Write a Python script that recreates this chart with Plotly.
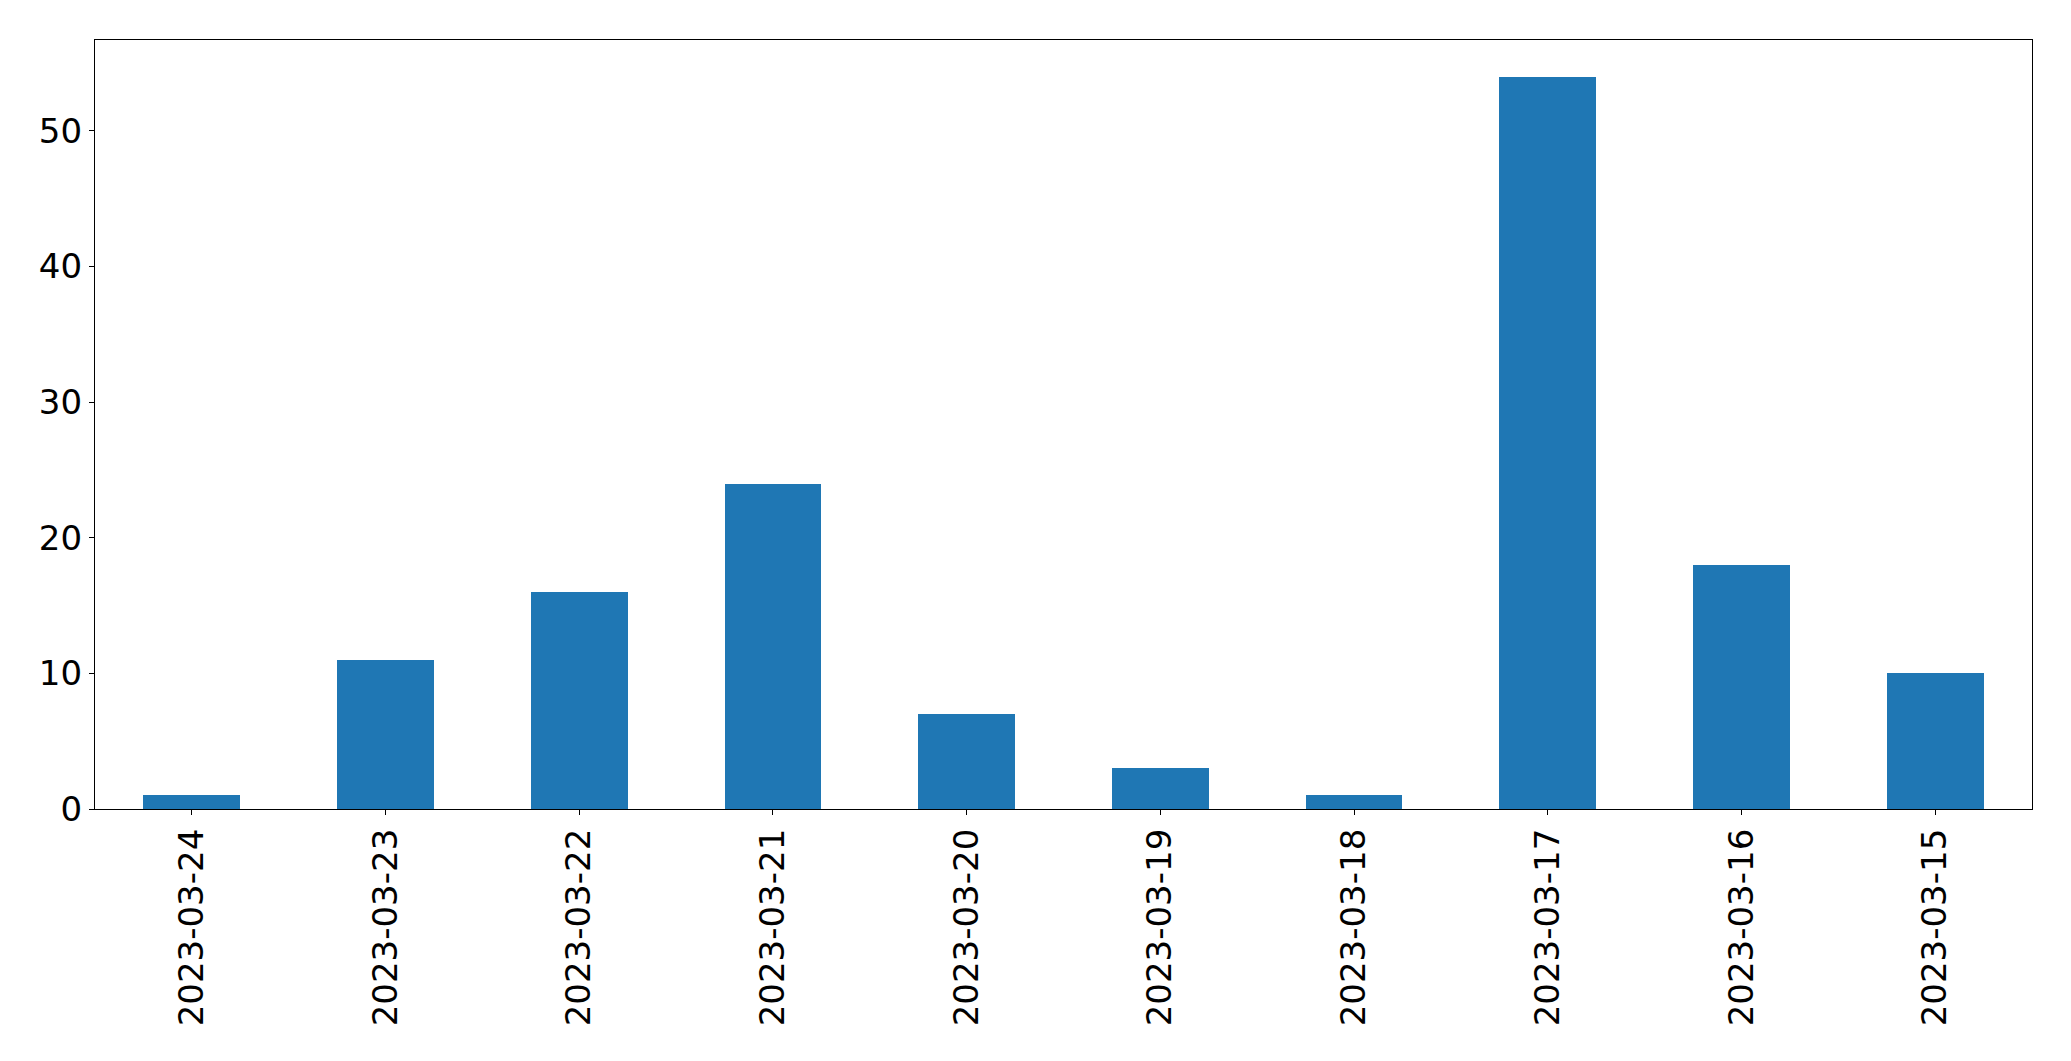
import plotly.graph_objects as go

dates = ["2023-03-24", "2023-03-23", "2023-03-22", "2023-03-21", "2023-03-20",
         "2023-03-19", "2023-03-18", "2023-03-17", "2023-03-16", "2023-03-15"]
counts = [1, 11, 16, 24, 7, 3, 1, 54, 18, 10]

fig = go.Figure(go.Bar(
    x=list(range(len(dates))), y=counts, width=0.5,
    marker=dict(color="#1f77b4", line=dict(width=0)),
))

font = dict(family="DejaVu Sans", size=34, color="black")
fig.update_layout(
    width=2071, height=1061,
    margin=dict(l=86.5, r=47.3, t=31.5, b=260, autoexpand=False),
    paper_bgcolor="white", plot_bgcolor="white",
    showlegend=False,
    font=font,
    bargap=0,
)
fig.update_xaxes(
    range=[-0.5, 9.5], tickmode="array", tickvals=list(range(len(dates))), ticktext=dates,
    tickangle=-90, ticks="outside", ticklen=5, tickwidth=1.3, tickcolor="black",
    showline=True, linecolor="black", linewidth=1.3, mirror=True,
    showgrid=False, zeroline=False, tickfont=font,
)
fig.update_yaxes(
    range=[0, 56.7], tickvals=[0, 10, 20, 30, 40, 50],
    ticks="outside", ticklen=5, tickwidth=1.3, tickcolor="black",
    showline=True, linecolor="black", linewidth=1.3, mirror=True,
    showgrid=False, zeroline=False, tickfont=font,
)
fig.write_html("out.html")
